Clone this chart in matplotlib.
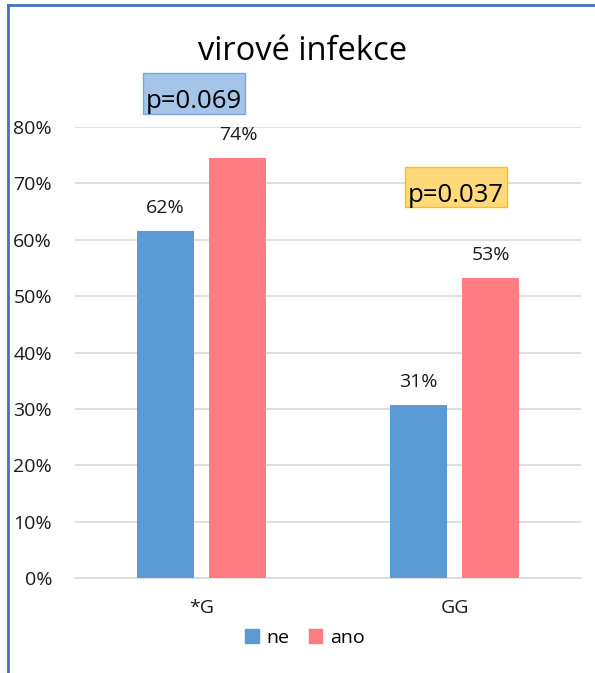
import matplotlib.pyplot as plt
import numpy as np
from matplotlib.lines import Line2D
from matplotlib.patches import Patch, Rectangle

plt.rcParams["font.family"] = ["Open Sans", "DejaVu Sans"]

categories = ["*G", "GG"]
ne_values = [61.5, 30.7]
ano_values = [74.5, 53.2]
ne_labels = ["62%", "31%"]
ano_labels = ["74%", "53%"]
p_texts = ["p=0.069", "p=0.037"]

NE_COLOR = "#5B9BD5"
ANO_COLOR = "#FF7C80"
TEXT_SIZE = 14

W, H = 595, 673
fig = plt.figure(figsize=(W / 100, H / 100), dpi=100)
ax = fig.add_axes([75 / W, 1 - 578 / H, 506 / W, (578 - 127) / H])

x = np.arange(len(categories))
width = 0.225
offset = 0.144
ax.bar(x - offset, ne_values, width, color=NE_COLOR, zorder=3)
ax.bar(x + offset, ano_values, width, color=ANO_COLOR, zorder=3)

for i in range(len(categories)):
    ax.text(x[i] - offset, ne_values[i] + 4.1, ne_labels[i], ha="center", va="center",
            fontsize=TEXT_SIZE, color="#1a1a1a")
    ax.text(x[i] + offset, ano_values[i] + 4.1, ano_labels[i], ha="center", va="center",
            fontsize=TEXT_SIZE, color="#1a1a1a")

ax.set_xlim(-0.5, 1.5)
ax.set_ylim(0, 80)
ax.set_yticks(np.arange(0, 81, 10))
ax.set_yticklabels([f"{v}%" for v in range(0, 81, 10)], fontsize=TEXT_SIZE)
ax.set_xticks(x)
ax.set_xticklabels(categories, fontsize=TEXT_SIZE)
ax.tick_params(length=0, colors="#1a1a1a")
ax.tick_params(axis="x", pad=15)
ax.tick_params(axis="y", pad=16.5)
ax.grid(axis="y", color="#D9D9D9", linewidth=1.2, zorder=0)
for side in ["top", "right", "left"]:
    ax.spines[side].set_visible(False)
ax.spines["bottom"].set_color("#D9D9D9")
ax.spines["bottom"].set_linewidth(1.2)

# p-value boxes
ax.add_patch(Rectangle((-0.231, 82.3), 0.403, 7.3, facecolor="#A4C4E8", edgecolor="#7EA6D8",
                       linewidth=1, clip_on=False, zorder=5))
ax.text(-0.03, 83.4, p_texts[0], ha="center", va="baseline", fontsize=18.5, zorder=6)
ax.add_patch(Rectangle((0.804, 65.8), 0.404, 7.1, facecolor="#FFD97A", edgecolor="#FFC000",
                       linewidth=1, clip_on=False, zorder=5))
ax.text(1.006, 66.7, p_texts[1], ha="center", va="baseline", fontsize=18.5, zorder=6)

fig.text(303 / W, 1 - 52 / H, "virové infekce", ha="center", va="center", fontsize=23.5)

handles = [Patch(color=NE_COLOR, label="ne"), Patch(color=ANO_COLOR, label="ano")]
fig.legend(handles=handles, loc="center", bbox_to_anchor=(305 / W, 1 - 638 / H), ncol=2,
           frameon=False, fontsize=TEXT_SIZE, handlelength=0.7, handleheight=0.7,
           handletextpad=0.4, columnspacing=1.0)

# outer blue border (left and top)
fig.add_artist(Line2D([7.5 / W, 7.5 / W], [0, 1 - 5 / H], transform=fig.transFigure,
                      color="#4472C4", linewidth=2))
fig.add_artist(Line2D([7.5 / W, 1], [1 - 5 / H, 1 - 5 / H], transform=fig.transFigure,
                      color="#4472C4", linewidth=2))

fig.savefig("out.png", dpi=100)
